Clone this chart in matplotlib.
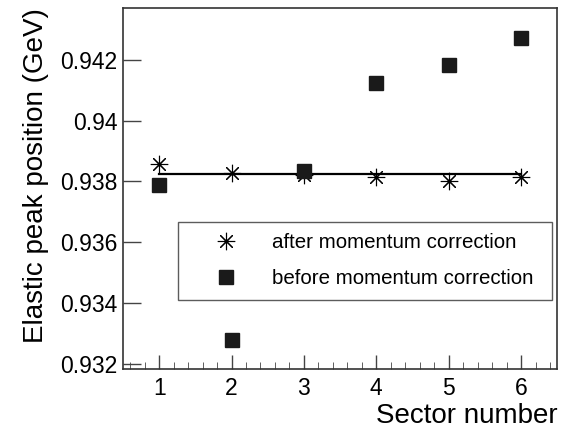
import matplotlib
matplotlib.use("Agg")
import matplotlib.pyplot as plt
from matplotlib.ticker import MultipleLocator

plt.rcParams['font.family'] = ['Liberation Sans', 'DejaVu Sans']

# --- Data ---
sectors = [1, 2, 3, 4, 5, 6]
after_corr = [0.93856, 0.93829, 0.93821, 0.93816, 0.93801, 0.93814]
before_corr = [0.93790, 0.93279, 0.93834, 0.94122, 0.94182, 0.94273]
fit_level = 0.93823
fit_range = [1, 6]

y_ticks = [0.932, 0.934, 0.936, 0.938, 0.94, 0.942]
y_tick_labels = ["0.932", "0.934", "0.936", "0.938", "0.94", "0.942"]

# --- Figure ---
fig = plt.figure(figsize=(5.64, 4.29), dpi=100)
ax = fig.add_axes([0.218, 0.140, 0.770, 0.842])

ax.plot(fit_range, [fit_level, fit_level], color="black", lw=1.6, zorder=1)
ax.plot(sectors, after_corr, linestyle="none", marker=(8, 2, 0), markersize=12.5,
        markeredgewidth=0.8, color="black", label="after momentum correction", zorder=2)
ax.plot(sectors, before_corr, linestyle="none", marker="s", markersize=9.5,
        color="#1a1a1a", label="before momentum correction", zorder=3)

ax.set_xlim(0.5, 6.5)
ax.set_ylim(0.93184, 0.94371)
ax.set_xticks(sectors)
ax.xaxis.set_minor_locator(MultipleLocator(0.2))
ax.set_yticks(y_ticks)
ax.set_yticklabels(y_tick_labels)

ax.tick_params(axis="both", which="major", direction="in", labelsize=16.5,
               color="#444444", width=1.0)
ax.tick_params(axis="x", which="major", length=10, pad=6)
ax.tick_params(axis="y", which="major", length=13, pad=4)
ax.tick_params(axis="x", which="minor", direction="in", length=5, color="#444444")
for s in ax.spines.values():
    s.set_color("#333333")
    s.set_linewidth(1.2)

ax.set_xlabel("Sector number", fontsize=20, loc="right", labelpad=2)
ax.set_ylabel("Elastic peak position (GeV)", fontsize=20, loc="top", labelpad=8)

leg = ax.legend(loc="upper left", bbox_to_anchor=(0.127, 0.191, 0.862, 0.217),
                mode="expand", fontsize=14.8, frameon=True, fancybox=False,
                edgecolor="#333333", borderpad=0.55, labelspacing=0.85,
                handletextpad=0.44, handlelength=3.56, borderaxespad=0)
leg.get_frame().set_linewidth(1.0)

fig.savefig("out.png", dpi=100)
